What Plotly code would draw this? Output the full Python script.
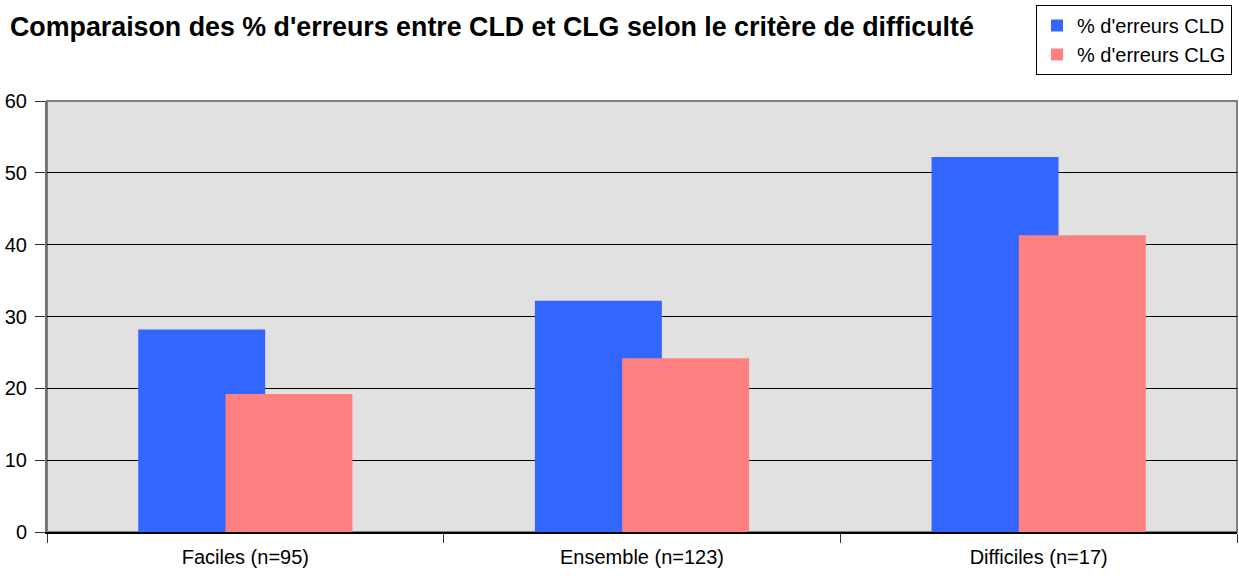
import plotly.graph_objects as go

categories = ['Faciles (n=95)', 'Ensemble (n=123)', 'Difficiles (n=17)']
cld_values = [28.2, 32.2, 52.2]
clg_values = [19.2, 24.2, 41.3]

fig = go.Figure()

# Excel-style overlapping bars: CLD behind, CLG in front shifted right
fig.add_trace(go.Bar(x=categories, y=cld_values, name="% d'erreurs CLD",
                     marker=dict(color='#3366FF', line=dict(width=0)),
                     width=0.32, offset=-0.27))
fig.add_trace(go.Bar(x=categories, y=clg_values, name="% d'erreurs CLG",
                     marker=dict(color='#FF8080', line=dict(width=0)),
                     width=0.32, offset=-0.05))

fig.update_layout(
    width=1239, height=576,
    barmode='overlay',
    paper_bgcolor='white',
    plot_bgcolor='#E1E1E1',
    font=dict(family='Liberation Sans, Arial, sans-serif', size=20, color='black'),
    margin=dict(l=47, r=2, t=101, b=44, autoexpand=False),
    title=dict(text="<b>Comparaison des % d'erreurs entre CLD et CLG selon le critère de difficulté</b>",
               x=10 / 1239, xref='container', xanchor='left',
               y=1 - 27 / 576, yref='container', yanchor='middle',
               font=dict(size=26.8, color='black')),
    legend=dict(x=1036 / 1239, y=1 - 5 / 576, xref='container', yref='container',
                xanchor='left', yanchor='top',
                bordercolor='black', borderwidth=1, bgcolor='white',
                font=dict(size=20)),
    showlegend=True,
)

fig.update_xaxes(
    showline=True, linecolor='black', linewidth=1.5, mirror=False,
    ticks='outside', tickson='boundaries', ticklen=9, tickcolor='#333333',
    showgrid=False, range=[-0.5, 2.5], automargin=False, ticklabelstandoff=6,
)
fig.update_yaxes(
    range=[0, 60], dtick=10,
    showline=True, linecolor='#707070', linewidth=2,
    ticks='outside', ticklen=10, tickcolor='#333333',
    showgrid=True, gridcolor='black', gridwidth=1,
    zeroline=False, automargin=False, ticklabelstandoff=4,
)

# gray frame around the plot area
fig.add_shape(type='rect', xref='paper', yref='paper', x0=0, y0=0, x1=1, y1=1,
              line=dict(color='#808080', width=2), layer='below')

# drop the default page margin so the figure sits at the window origin
fig.write_html("out.html", config={'displayModeBar': False},
               post_script="document.body.style.margin='0';")
